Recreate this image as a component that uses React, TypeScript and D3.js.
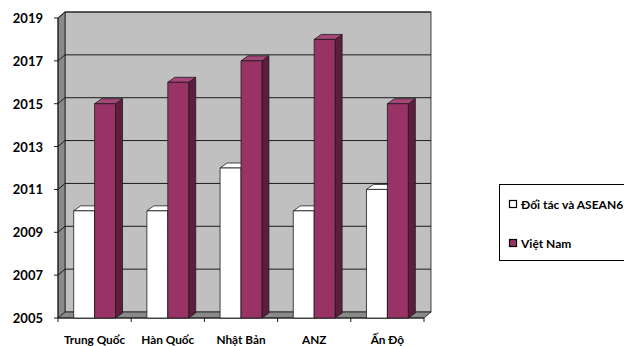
import * as d3 from 'd3';

// Năm hoàn thành cắt giảm thuế: đối tác và ASEAN6 so với Việt Nam
const categories = ['Trung Quốc', 'Hàn Quốc', 'Nhật Bản', 'ANZ', 'Ấn Độ'];
const seriesNames = ['Đối tác và ASEAN6', 'Việt Nam'];
const partnerYears = [2010, 2010, 2012, 2010, 2011];
const vietnamYears = [2015, 2016, 2017, 2018, 2015];
const yTicks = [2005, 2007, 2009, 2011, 2013, 2015, 2017, 2019];

const W = 624;
const H = 346;
const FONT = 'Lato, "Open Sans", sans-serif';

// 3D offsets (depth of walls and bars)
const wallDx = 7;
const wallDy = -6;
const barDx = 7;
const barDy = -5;

const seriesStyle = [
  { front: '#ffffff', side: '#d8d8d8', top: '#ffffff' },
  { front: '#993366', side: '#5e1d3f', top: '#a8457a' },
];

export default function App() {
  const x0 = d3.scaleBand<string>().domain(categories).range([58, 424]).padding(0);
  const x1 = d3
    .scaleBand<string>()
    .domain(seriesNames)
    .range([0, x0.bandwidth()])
    .paddingInner(0)
    .paddingOuter(0.75);
  const y = d3.scaleLinear().domain([2005, 2019]).range([318, 18]);

  const left = x0.range()[0];
  const right = x0.range()[1];
  const top = y(2019);
  const bottom = y(2005);

  const values = [partnerYears, vietnamYears];

  const bars: JSX.Element[] = [];
  categories.forEach((c, ci) => {
    seriesNames.forEach((s, si) => {
      const v = values[si][ci];
      const bx = (x0(c) ?? 0) + (x1(s) ?? 0);
      const bw = x1.bandwidth();
      const by = y(v);
      const st = seriesStyle[si];
      bars.push(
        <g key={`${c}-${s}`} stroke="#1a1a1a" strokeWidth={0.8} strokeLinejoin="round">
          <polygon
            points={`${bx + bw},${bottom} ${bx + bw + barDx},${bottom + barDy} ${bx + bw + barDx},${by + barDy} ${bx + bw},${by}`}
            fill={st.side}
          />
          <polygon
            points={`${bx},${by} ${bx + barDx},${by + barDy} ${bx + bw + barDx},${by + barDy} ${bx + bw},${by}`}
            fill={st.top}
          />
          <rect x={bx} y={by} width={bw} height={bottom - by} fill={st.front} />
        </g>
      );
    });
  });

  return (
    <svg
      width={W}
      height={H}
      style={{ position: 'absolute', left: 0, top: 0, background: '#ffffff' }}
      fontFamily={FONT}
    >
      {/* back wall */}
      <rect
        x={left + wallDx}
        y={top + wallDy}
        width={right - left}
        height={bottom - top}
        fill="#c0c0c0"
        stroke="#1a1a1a"
        strokeWidth={0.8}
      />
      {/* left side wall */}
      <polygon
        points={`${left},${top} ${left + wallDx},${top + wallDy} ${left + wallDx},${bottom + wallDy} ${left},${bottom}`}
        fill="#8a8a8a"
        stroke="#1a1a1a"
        strokeWidth={0.8}
      />
      {/* floor */}
      <polygon
        points={`${left},${bottom} ${left + wallDx},${bottom + wallDy} ${right + wallDx},${bottom + wallDy} ${right},${bottom}`}
        fill="#8a8a8a"
        stroke="#1a1a1a"
        strokeWidth={0.8}
      />
      {/* gridlines */}
      <g stroke="#1a1a1a" strokeWidth={1}>
        {yTicks.slice(1).map((t) => (
          <g key={t}>
            <line x1={left} y1={y(t)} x2={left + wallDx} y2={y(t) + wallDy} />
            <line x1={left + wallDx} y1={y(t) + wallDy} x2={right + wallDx} y2={y(t) + wallDy} />
          </g>
        ))}
      </g>
      {/* y axis ticks + labels */}
      <g>
        <line x1={left} y1={top} x2={left} y2={bottom} stroke="#1a1a1a" strokeWidth={1} />
        {yTicks.map((t) => (
          <g key={t}>
            <line x1={left - 4} y1={y(t)} x2={left} y2={y(t)} stroke="#1a1a1a" strokeWidth={1} />
            <text
              x={43}
              y={y(t)}
              textAnchor="end"
              dominantBaseline="central"
              fontSize={13}
              fontWeight="bold"
              fill="#000"
            >
              {t}
            </text>
          </g>
        ))}
      </g>
      {/* x axis ticks */}
      <g stroke="#1a1a1a" strokeWidth={1}>
        <line x1={left} y1={bottom} x2={right} y2={bottom} />
        {[...categories.map((c) => x0(c) ?? 0), right].map((tx, i) => (
          <line key={i} x1={tx} y1={bottom} x2={tx} y2={bottom + 4} />
        ))}
      </g>
      {bars}
      {/* x labels */}
      {categories.map((c) => (
        <text
          key={c}
          x={(x0(c) ?? 0) + x0.bandwidth() / 2}
          y={339}
          textAnchor="middle"
          dominantBaseline="central"
          fontSize={11.8}
          fontWeight="bold"
          fill="#000"
        >
          {c}
        </text>
      ))}
      {/* legend */}
      <g>
        <rect x={499.5} y={184.5} width={140} height={76} fill="#ffffff" stroke="#000" strokeWidth={1} />
        {seriesNames.map((s, i) => (
          <g key={s} transform={`translate(509, ${204 + i * 39})`}>
            <rect x={0.5} y={-3.5} width={7} height={7} fill={seriesStyle[i].front} stroke="#000" strokeWidth={1.2} />
            <text x={12} y={0} dominantBaseline="central" fontSize={12} fontWeight="bold" fill="#000">
              {s}
            </text>
          </g>
        ))}
      </g>
    </svg>
  );
}
